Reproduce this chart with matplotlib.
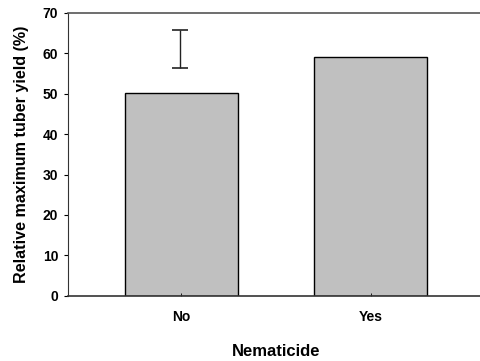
import numpy as np
import matplotlib.pyplot as plt

plt.rcParams['font.family'] = ['Liberation Sans', 'DejaVu Sans']
plt.rcParams['font.weight'] = 'bold'

categories = ['No', 'Yes']
yield_pct = [50.3, 59.2]
# bar shown above the "No" bar (LSD style), low / high ends
err_low, err_high = 56.5, 65.8

fig = plt.figure(figsize=(4.8, 3.61), dpi=100)
ax = fig.add_axes([68/480, 1 - 295.7/361, 416/480, 282.7/361])

x = np.arange(len(categories))
ax.bar(x, yield_pct, width=0.6, color='#c0c0c0', edgecolor='black', linewidth=1.0)

# the single error bar
mid = (err_low + err_high) / 2
ax.errorbar([x[0] - 0.01], [mid], yerr=[[mid - err_low], [err_high - mid]],
            fmt='none', ecolor='#222222', elinewidth=1.0, capsize=5.5, capthick=1.2)

ax.set_xlim(-0.6, 1.6)
ax.set_ylim(0, 70)
ax.set_yticks(np.arange(0, 71, 10))
ax.set_xticks(x)
ax.set_xticklabels(categories, fontsize=10, fontweight='bold')
ax.tick_params(axis='y', labelsize=10, length=3, width=0.8, direction='out', pad=4)
ax.tick_params(axis='x', length=2, width=0.6, direction='in', pad=10)
for t in ax.get_yticklabels():
    t.set_fontweight('bold')

ax.spines['right'].set_visible(False)
ax.spines['top'].set_color('#555555')
ax.spines['top'].set_linewidth(1.2)
ax.spines['left'].set_color('#333333')
ax.spines['bottom'].set_color('#333333')
ax.spines['bottom'].set_linewidth(1.2)

ax.set_xlabel('Nematicide', fontsize=12, fontweight='bold', labelpad=15)
ax.set_ylabel('Relative maximum tuber yield (%)', fontsize=11.6, fontweight='bold', labelpad=10)

fig.savefig('out.png', dpi=100)
